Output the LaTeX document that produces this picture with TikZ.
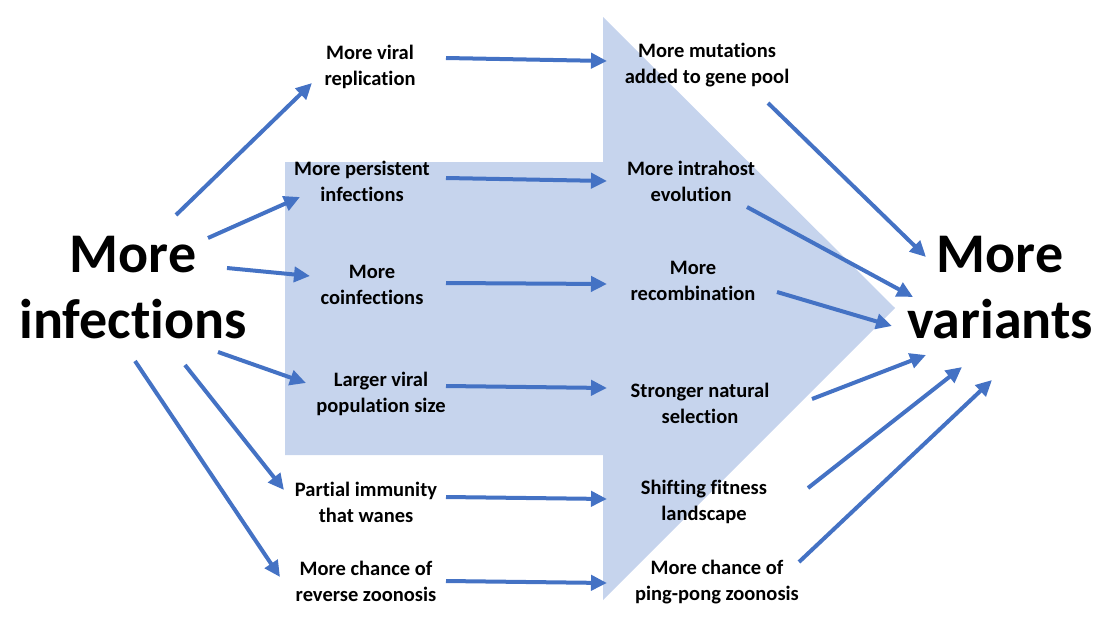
\documentclass[tikz,border=0pt]{standalone}
\usepackage{fontspec}
\setmainfont{Carlito}[Ligatures={NoCommon}]
\usetikzlibrary{arrows.meta}
\definecolor{arrblue}{RGB}{68,114,196}
\definecolor{bigfill}{RGB}{198,212,237}
\begin{document}
\begin{tikzpicture}[x=1pt,y=-1pt,
  lbl/.style={align=center,font=\fontsize{20.5}{26}\selectfont\bfseries,inner sep=0pt,yshift=-2pt},
  big/.style={align=center,font=\fontsize{56}{66}\selectfont\bfseries,inner sep=0pt},
  conn/.style={draw=arrblue,line width=4pt,-{Triangle[length=16pt,width=15pt]}}]
\useasboundingbox (0,0) rectangle (1109,624);
\fill[bigfill] (285,162) -- (603,162) -- (603,17) -- (895,308) -- (603,600) -- (603,455) -- (285,455) -- cycle;
% nodes
\node[big] (inf) at (133,288) {More\\infections};
\node[big] (var) at (1000,288) {More\\variants};
\node[lbl] (rep) at (370,65) {More viral\\replication};
\node[lbl] (per) at (362,179) {More persistent\\infections};
\node[lbl] (coi) at (372,283) {More\\coinfections};
\node[lbl] (lar) at (381,392) {Larger viral\\population size};
\node[lbl] (par) at (366,500) {Partial immunity\\that wanes};
\node[lbl] (rev) at (366,579) {More chance of\\reverse zoonosis};
\node[lbl] (mut) at (707,63) {More mutations\\added to gene pool};
\node[lbl] (intra) at (691,179) {More intrahost\\evolution};
\node[lbl] (rec) at (693,279) {More\\recombination};
\node[lbl] (sel) at (700,401) {Stronger natural\\selection};
\node[lbl] (fit) at (704,500) {Shifting fitness\\landscape};
\node[lbl] (ping) at (717,580) {More chance of\\ping-pong zoonosis};
% left fan
\draw[conn] ([shift={(43,-73)}]inf.center) -- ([shift={(-58,16)}]rep.center);
\draw[conn] ([shift={(75,-50)}]inf.center) -- ([shift={(-62,16)}]per.center);
\draw[conn] ([shift={(94,-20)}]inf.center) -- ([shift={(-62,-9)}]coi.center);
\draw[conn] ([shift={(85,64)}]inf.center) -- ([shift={(-75,-11)}]lar.center);
\draw[conn] ([shift={(52,77)}]inf.center) -- ([shift={(-82,-12)}]par.center);
\draw[conn] ([shift={(2,73)}]inf.center) -- ([shift={(-86,-4)}]rev.center);
% middle
\draw[conn] ([shift={(76,-9)}]rep.center) -- ([shift={(-100,-4)}]mut.center);
\draw[conn] ([shift={(84,-3)}]per.center) -- ([shift={(-84,0)}]intra.center);
\draw[conn] ([shift={(74,-2)}]coi.center) -- ([shift={(-86,3)}]rec.center);
\draw[conn] ([shift={(65,-8)}]lar.center) -- ([shift={(-93,-15)}]sel.center);
\draw[conn] ([shift={(80,-5)}]par.center) -- ([shift={(-97,-3)}]fit.center);
\draw[conn] ([shift={(80,0)}]rev.center) -- ([shift={(-110,1)}]ping.center);
% right fan
\draw[conn] ([shift={(61,38)}]mut.center) -- ([shift={(-74,-31)}]var.center);
\draw[conn] ([shift={(56,26)}]intra.center) -- ([shift={(-87,9)}]var.center);
\draw[conn] ([shift={(84,11)}]rec.center) -- ([shift={(-108,38)}]var.center);
\draw[conn] ([shift={(112,-4)}]sel.center) -- ([shift={(-74,67)}]var.center);
\draw[conn] ([shift={(104,-14)}]fit.center) -- ([shift={(-38,79)}]var.center);
\draw[conn] ([shift={(82,-20)}]ping.center) -- ([shift={(-8,92)}]var.center);
\end{tikzpicture}
\end{document}
